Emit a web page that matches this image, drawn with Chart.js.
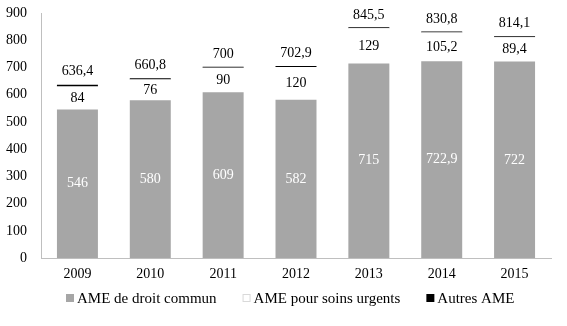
<!DOCTYPE html>
<html>
<head>
<meta charset="utf-8">
<script src="https://cdn.jsdelivr.net/npm/chart.js@4/dist/chart.umd.min.js"></script>
<style>
  html, body { margin: 0; padding: 0; background: #fff; }
  #wrap { width: 567px; height: 326px; }
</style>
</head>
<body>
<div id="wrap"><canvas id="c" width="567" height="326"></canvas></div>
<script>
const years = ['2009', '2010', '2011', '2012', '2013', '2014', '2015'];
const droitCommun = [546, 580, 609, 582, 715, 722.9, 722];
const soinsUrgents = [84, 76, 90, 120, 129, 105.2, 89.4];
const autresAme = [6.4, 4.8, 1, 0.9, 1.5, 2.7, 2.7];
const totals = [636.4, 660.8, 700, 702.9, 845.5, 830.8, 814.1];
const yTicks = [0, 100, 200, 300, 400, 500, 600, 700, 800, 900];

const FONT = 'Liberation Serif';
const fmt = v => String(v).replace('.', ',');

// Writes each segment value inside its bar and the total above the stack
const valueLabels = {
  id: 'valueLabels',
  afterDatasetsDraw(chart) {
    const ctx = chart.ctx;
    ctx.save();
    ctx.font = '14px "' + FONT + '"';
    ctx.textAlign = 'center';
    ctx.textBaseline = 'middle';
    const m0 = chart.getDatasetMeta(0);
    const m1 = chart.getDatasetMeta(1);
    const m2 = chart.getDatasetMeta(2);
    years.forEach((y, i) => {
      const b0 = m0.data[i], b1 = m1.data[i], b2 = m2.data[i];
      ctx.fillStyle = '#ffffff';
      ctx.fillText(fmt(droitCommun[i]), b0.x, (b0.y + b0.base) / 2);
      ctx.fillStyle = '#000000';
      ctx.fillText(fmt(soinsUrgents[i]), b1.x, (b1.y + b1.base) / 2);
      const top = chart.scales.y.getPixelForValue(totals[i]);
      ctx.fillText(fmt(totals[i]), b2.x, top - 13);
    });
    ctx.restore();
  }
};

// Single-row legend under the axis: square swatch, then the series name
const bottomLegend = {
  id: 'bottomLegend',
  afterDraw(chart) {
    const ctx = chart.ctx;
    const box = 8, gapText = 3, gapItem = 26;
    const y = 298, centerX = 290;
    ctx.save();
    ctx.font = '15px "' + FONT + '"';
    ctx.textBaseline = 'middle';
    ctx.textAlign = 'left';
    const items = chart.data.datasets.map((ds, i) => ({
      text: ds.label,
      fill: ds.backgroundColor,
      stroke: i === 1 ? '#d9d9d9' : null,
      w: ctx.measureText(ds.label).width
    }));
    const total = items.reduce((s, it) => s + box + gapText + it.w, 0) + gapItem * (items.length - 1);
    let x = Math.round(centerX - total / 2);
    items.forEach(it => {
      ctx.fillStyle = it.fill;
      ctx.fillRect(x, y - box / 2, box, box);
      if (it.stroke) {
        ctx.strokeStyle = it.stroke;
        ctx.lineWidth = 1;
        ctx.strokeRect(x + 0.5, y - box / 2 + 0.5, box - 1, box - 1);
      }
      ctx.fillStyle = '#000';
      ctx.fillText(it.text, x + box + gapText, y + 1);
      x += box + gapText + it.w + gapItem;
    });
    ctx.restore();
  }
};

new Chart(document.getElementById('c'), {
  type: 'bar',
  data: {
    labels: years,
    datasets: [
      { label: 'AME de droit commun', data: droitCommun, backgroundColor: '#a6a6a6', borderWidth: 0 },
      { label: 'AME pour soins urgents', data: soinsUrgents, backgroundColor: '#ffffff', borderWidth: 0 },
      { label: 'Autres AME', data: autresAme, backgroundColor: '#000000', borderWidth: 0, minBarLength: 1 }
    ]
  },
  options: {
    responsive: false,
    animation: false,
    devicePixelRatio: 1,
    layout: { padding: { top: 13, right: 16, left: 0, bottom: 35 } },
    datasets: { bar: { categoryPercentage: 1, barPercentage: 0.5625 } },
    scales: {
      x: {
        stacked: true,
        grid: { display: false, drawTicks: false },
        border: { display: true, color: '#bfbfbf' },
        ticks: { color: '#000', font: { family: FONT, size: 14 }, padding: 8 }
      },
      y: {
        stacked: true,
        min: 0,
        max: 900,
        afterFit(scale) {
          scale.width = 41;
          scale.paddingTop = 0;
          scale.paddingBottom = 0;
        },
        afterBuildTicks(scale) { scale.ticks = yTicks.map(v => ({ value: v })); },
        grid: { display: false, drawTicks: false },
        border: { display: true, color: '#bfbfbf' },
        ticks: { color: '#000', font: { family: FONT, size: 14 }, padding: 14 }
      }
    },
    plugins: {
      tooltip: { enabled: false },
      legend: { display: false }
    }
  },
  plugins: [valueLabels, bottomLegend]
});
</script>
</body>
</html>
